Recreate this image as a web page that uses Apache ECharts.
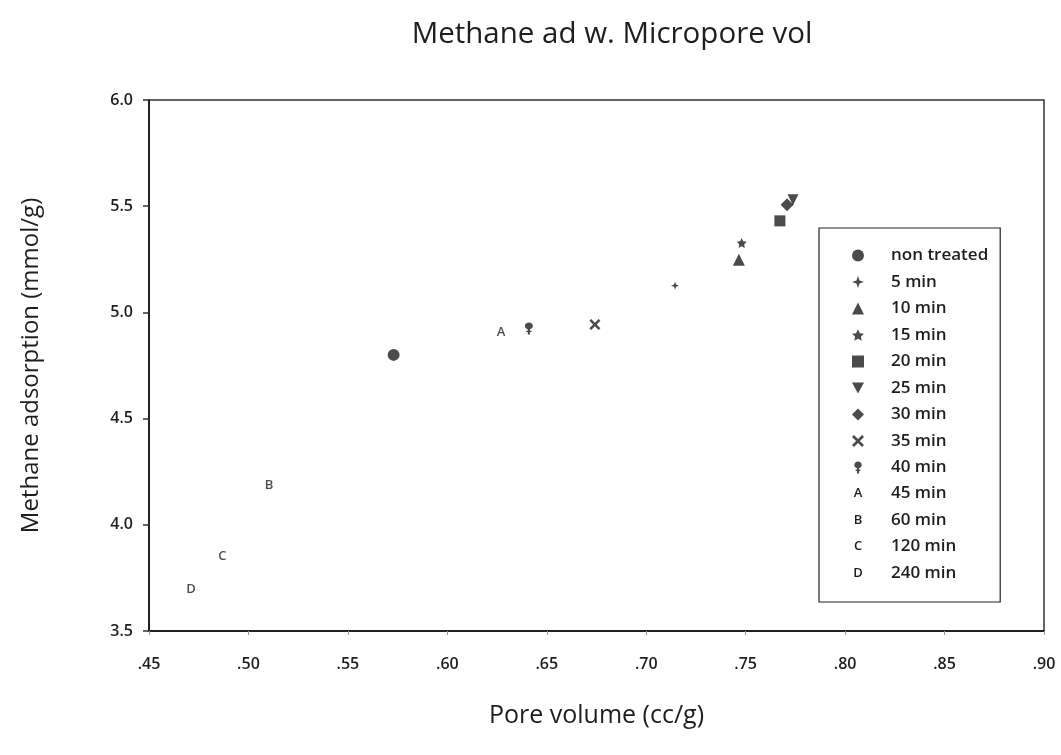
<!DOCTYPE html>
<html>
<head>
<meta charset="utf-8">
<script src="https://cdn.jsdelivr.net/npm/echarts@6/dist/echarts.min.js"></script>
<style>
  html, body { margin: 0; padding: 0; background: #fff; }
  #chart { width: 1061px; height: 755px; }
</style>
</head>
<body>
<div id="chart"></div>
<script>
// Treatment times and measured points (pore volume cc/g, methane adsorption mmol/g)
const categories = ['non treated', '5 min', '10 min', '15 min', '20 min', '25 min', '30 min',
                    '35 min', '40 min', '45 min', '60 min', '120 min', '240 min'];
const poreVolume = [0.573, 0.7145, 0.7466, 0.748, 0.7672, 0.7738, 0.7708,
                    0.6742, 0.641, 0.627, 0.5103, 0.4869, 0.4711];
const methaneAdsorption = [4.80, 5.126, 5.248, 5.327, 5.431, 5.53, 5.507,
                           4.943, 4.924, 4.906, 4.186, 3.854, 3.697];
const xTickLabels = ['.45', '.50', '.55', '.60', '.65', '.70', '.75', '.80', '.85', '.90'];
const yTickLabels = ['3.5', '4.0', '4.5', '5.0', '5.5', '6.0'];
const letterMarks = { '45 min': 'A', '60 min': 'B', '120 min': 'C', '240 min': 'D' };

const FONT = '"Open Sans", "Noto Sans", sans-serif';
const INK = '#1e1e1e';

// Marker shapes for the non-letter series
const shapes = {
  'non treated': { symbol: 'circle', size: 12 },
  '5 min': { symbol: 'path://M5,0 L6.3,3.7 L10,5 L6.3,6.3 L5,10 L3.7,6.3 L0,5 L3.7,3.7 Z', size: 8 },
  '10 min': { symbol: 'triangle', size: 12 },
  '15 min': { symbol: 'path://M5,0.3 L6.5,3.4 L9.8,3.8 L7.4,6.1 L7.9,9.4 L5,7.8 L2.1,9.4 L2.6,6.1 L0.2,3.8 L3.5,3.4 Z', size: 10 },
  '20 min': { symbol: 'rect', size: 11 },
  '25 min': { symbol: 'path://M0,0 L10,0 L5,9 Z', size: 11 },
  '30 min': { symbol: 'diamond', size: 13 },
  '35 min': { symbol: 'path://M0,1.6 L1.6,0 L5,3.4 L8.4,0 L10,1.6 L6.6,5 L10,8.4 L8.4,10 L5,6.6 L1.6,10 L0,8.4 L3.4,5 Z', size: 11 },
  '40 min': { symbol: 'path://M5,0 C7.2,0 9,1.6 9,3.8 C9,5.6 7.8,6.9 6.1,7.4 L6.1,8.8 L7.6,8.8 L7.6,10.2 L6.1,10.2 L6.1,13 L3.9,13 L3.9,10.2 L2.4,10.2 L2.4,8.8 L3.9,8.8 L3.9,7.4 C2.2,6.9 1,5.6 1,3.8 C1,1.6 2.8,0 5,0 Z', size: [8, 12] }
};

const series = categories.map((name, i) => {
  const point = [[poreVolume[i], methaneAdsorption[i]]];
  if (letterMarks[name]) {
    return {
      name, type: 'scatter', data: point,
      symbol: 'circle', symbolSize: 2,
      itemStyle: { color: 'rgba(0,0,0,0)' },
      label: {
        show: true, position: 'inside', formatter: letterMarks[name],
        color: INK, fontSize: 13, fontWeight: 600, fontFamily: FONT
      },
      emphasis: { disabled: true },
      z: 3
    };
  }
  return {
    name, type: 'scatter', data: point,
    symbol: shapes[name].symbol, symbolSize: shapes[name].size,
    itemStyle: { color: INK },
    emphasis: { disabled: true },
    z: 3
  };
});

const shapeNames = categories.filter(n => !letterMarks[n]);
const letterNames = categories.filter(n => letterMarks[n]);

const chart = echarts.init(document.getElementById('chart'), null, { renderer: 'canvas' });
chart.setOption({
  backgroundColor: '#fff',
  animation: false,
  title: {
    text: 'Methane ad w. Micropore vol',
    left: 607, top: 15, textAlign: 'center',
    textStyle: { fontFamily: FONT, fontSize: 29.5, fontWeight: 'normal', color: INK }
  },
  grid: {
    left: 149, right: 17, top: 100, bottom: 124,
    show: true, borderColor: '#333', borderWidth: 1.5
  },
  xAxis: {
    type: 'value', min: 0.45, max: 0.90, interval: 0.05,
    name: 'Pore volume (cc/g)', nameLocation: 'middle', nameGap: 72,
    nameTextStyle: { fontFamily: FONT, fontSize: 25, color: INK },
    axisLine: { show: true, onZero: false, lineStyle: { color: '#222', width: 2 } },
    axisTick: { show: true, length: 4, lineStyle: { color: '#999', width: 1 } },
    axisLabel: {
      margin: 25, fontFamily: FONT, fontSize: 16, fontWeight: 600, color: INK,
      formatter: (v, idx) => xTickLabels[idx]
    },
    splitLine: { show: false }
  },
  yAxis: {
    type: 'value', min: 3.5, max: 6.0, interval: 0.5,
    name: 'Methane adsorption (mmol/g)', nameLocation: 'middle', nameGap: 106,
    nameTextStyle: { fontFamily: FONT, fontSize: 24, color: INK },
    axisLine: { show: true, onZero: false, lineStyle: { color: '#222', width: 2 } },
    axisTick: { show: true, length: 6, lineStyle: { color: '#333', width: 1.5 } },
    axisLabel: {
      margin: 16, fontFamily: FONT, fontSize: 16, fontWeight: 600, color: INK,
      formatter: (v, idx) => yTickLabels[idx]
    },
    splitLine: { show: false }
  },
  legend: [
    {
      orient: 'vertical', left: 819, top: 228,
      padding: [19, 12, 126, 33],
      itemWidth: 12, itemHeight: 12, itemGap: 9.5,
      borderColor: '#222', borderWidth: 1.2,
      selectedMode: false,
      data: shapeNames,
      formatter: n => '{t|' + n + '}',
      textStyle: {
        rich: { t: { fontFamily: FONT, fontSize: 17, fontWeight: 600, lineHeight: 16, color: INK, padding: [0, 0, 0, 22] } }
      }
    },
    {
      orient: 'vertical', left: 831, top: 485,
      padding: 0,
      itemWidth: 12, itemHeight: 12, itemGap: 9.5,
      icon: 'none',
      selectedMode: false,
      data: letterNames,
      formatter: n => '{l|' + letterMarks[n] + '}{t|' + n + '}',
      textStyle: {
        rich: {
          l: { fontFamily: FONT, fontSize: 13, fontWeight: 600, lineHeight: 16, color: INK, width: 20, align: 'center' },
          t: { fontFamily: FONT, fontSize: 17, fontWeight: 600, lineHeight: 16, color: INK, padding: [0, 0, 0, 23] }
        }
      }
    }
  ],
  series
});
</script>
</body>
</html>
